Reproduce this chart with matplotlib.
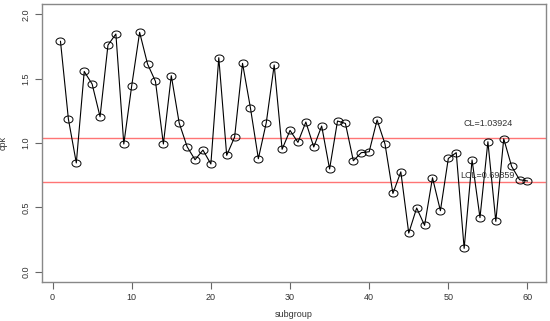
import matplotlib
matplotlib.use('Agg')
import matplotlib.pyplot as plt
import numpy as np

plt.rcParams['font.family'] = ['Liberation Sans', 'DejaVu Sans']

subgroup = list(range(1, 61))
cpk = [1.79, 1.186, 0.845, 1.556, 1.458, 1.204, 1.761, 1.847, 0.992, 1.445,
       1.86, 1.614, 1.479, 0.992, 1.523, 1.155, 0.971, 0.870, 0.945, 0.837,
       1.663, 0.904, 1.046, 1.619, 1.272, 0.878, 1.158, 1.606, 0.951, 1.098,
       1.005, 1.163, 0.969, 1.132, 0.798, 1.171, 1.152, 0.862, 0.925, 0.932,
       1.179, 0.992, 0.608, 0.776, 0.30, 0.495, 0.36, 0.730, 0.474, 0.880,
       0.925, 0.181, 0.868, 0.42, 1.010, 0.391, 1.033, 0.818, 0.715, 0.705]
cl = 1.03924
lcl = 0.69859

# slightly flattened open circle, as in the reference
t = np.linspace(0, 2 * np.pi, 40)
ellipse = np.column_stack([np.cos(t), 0.78 * np.sin(t)])

fig = plt.figure(figsize=(5.5, 3.21), dpi=100)
ax = fig.add_axes([0.076, 0.1215, 0.917, 0.866])

ax.axhline(cl, color='#ff7575', lw=1.0, zorder=1)
ax.axhline(lcl, color='#ff7575', lw=1.0, zorder=1)
ax.plot(subgroup, cpk, color='black', lw=0.8, marker=ellipse, markersize=6.5,
        markerfacecolor='none', markeredgecolor='black', markeredgewidth=0.7, zorder=2)

ax.text(55, 1.15, 'CL=' + str(cl), fontsize=6.5, ha='center', va='center', color='#333333')
ax.text(55, 0.746, 'LCL=' + str(lcl), fontsize=6.5, ha='center', va='center', color='#333333')

ax.set_xlim(-1.36, 62.36)
ax.set_ylim(-0.08, 2.08)
ax.set_xticks([0, 10, 20, 30, 40, 50, 60])
ax.set_yticks([0.0, 0.5, 1.0, 1.5, 2.0])
ax.set_yticklabels(['0.0', '0.5', '1.0', '1.5', '2.0'], rotation=90, va='center')
ax.tick_params(labelsize=6.5, length=5, width=0.8, color='#666666', labelcolor='#333333', pad=3)
for s in ax.spines.values():
    s.set_color('#888888')
    s.set_linewidth(1.0)

ax.set_xlabel('subgroup', fontsize=6.5, color='#333333', labelpad=6)
ax.set_ylabel('cpk', fontsize=6.5, color='#333333', labelpad=10)

fig.savefig('out.png', dpi=100)
